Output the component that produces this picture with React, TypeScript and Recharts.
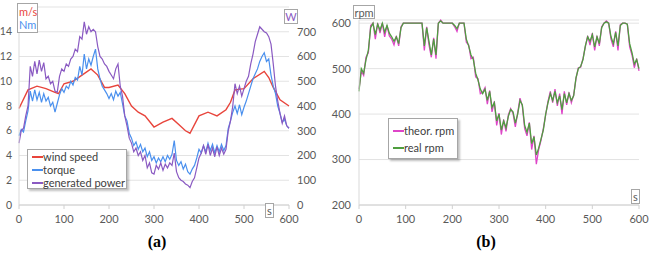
import { LineChart, Line, XAxis, YAxis, CartesianGrid } from "recharts";

// time grid for the sampled series (s)
const seconds = [
  0, 5, 10, 15, 20, 25, 30, 35, 40, 45, 50, 55, 60, 65, 70, 75, 80, 85, 90, 95,
  100, 105, 110, 115, 120, 125, 130, 135, 140, 145, 150, 155, 160, 165, 170, 175, 180, 185, 190, 195,
  200, 205, 210, 215, 220, 225, 230, 235, 240, 245, 250, 255, 260, 265, 270, 275, 280, 285, 290, 295,
  300, 305, 310, 315, 320, 325, 330, 335, 340, 345, 350, 355, 360, 365, 370, 375, 380, 385, 390, 395,
  400, 405, 410, 415, 420, 425, 430, 435, 440, 445, 450, 455, 460, 465, 470, 475, 480, 485, 490, 495,
  500, 505, 510, 515, 520, 525, 530, 535, 540, 545, 550, 555, 560, 565, 570, 575, 580, 585, 590, 595,
  600,
];

// Nm
const torque = [
  5.6, 6.1, 5.9, 6.8, 7.6, 9.2, 8.4, 9.3, 8.5, 9.1, 8.3, 9.0, 8.4, 8.7, 8.0, 8.3, 7.5, 8.2, 8.9, 9.4,
  9.1, 9.6, 9.4, 10.0, 9.7, 10.3, 10.1, 11.2, 10.5, 12.2, 11.0, 11.8, 11.3, 12.0, 12.6, 11.0, 10.2, 9.6, 9.3, 9.0,
  8.6, 9.0, 8.5, 9.2, 8.8, 9.1, 8.2, 7.2, 6.8, 5.8, 5.4, 4.8, 5.1, 4.5, 4.9, 4.3, 4.6, 3.9, 4.3, 3.6,
  3.9, 3.4, 3.8, 3.5, 3.9, 3.5, 4.0, 3.7, 4.1, 5.2, 3.6, 3.2, 3.5, 2.9, 3.3, 2.7, 2.5, 2.9, 3.2, 3.8,
  4.5, 4.2, 4.8, 4.3, 5.0, 4.4, 4.9, 4.2, 4.8, 4.3, 4.9, 4.4, 4.8, 6.2, 6.8, 7.5, 8.0, 7.4, 8.1, 7.3,
  7.9, 8.4, 9.0, 9.6, 10.2, 10.6, 11.0, 11.6, 12.0, 12.3, 11.6, 11.8, 10.5, 9.6, 9.0, 8.0, 7.4, 6.7, 6.9, 6.4,
  6.2,
];

// W
const power = [
  250, 300, 310, 360, 400, 560, 520, 580, 530, 585, 540, 575, 510, 520, 490, 500, 460, 455, 520, 550,
  540, 570, 560, 590, 600, 630, 620, 680, 670, 740, 690, 720, 700, 710, 700, 640, 600, 590, 570, 560,
  540, 525, 510, 550, 570, 480, 440, 360, 320, 270, 250, 215, 230, 200, 215, 180, 200, 150, 170, 130,
  125, 160, 145, 170, 140, 165, 150, 170, 160, 210, 135, 110, 100, 95, 85, 80, 70, 95, 110, 150,
  190, 210, 240, 205, 245, 200, 230, 195, 235, 200, 230, 205, 225, 300, 340, 400, 490, 450, 480, 440,
  470, 500, 520, 570, 610, 660, 690, 720, 710, 700, 695, 680, 650, 570, 480, 420, 370, 330, 360, 320,
  310,
];

// wind speed is smooth, read at its corners (m/s)
const windTime = [0, 20, 40, 60, 80, 88, 100, 120, 140, 160, 175, 190, 200, 220, 235, 250, 265, 280, 300, 320, 340, 355, 370, 380, 400, 420, 440, 460, 470, 480, 500, 520, 545, 555, 565, 580, 600];
const windSpeed = [7.8, 9.3, 9.6, 9.4, 9.1, 9.0, 9.8, 10.0, 10.5, 11.0, 10.5, 9.5, 9.5, 9.7, 9.0, 8.0, 7.5, 7.2, 6.3, 6.7, 7.0, 6.5, 6.0, 5.8, 7.2, 7.5, 7.2, 7.7, 8.3, 9.3, 9.4, 10.2, 10.8, 10.3, 9.5, 8.5, 8.0];

// rpm
const realRpm = [
  450, 500, 490, 520, 540, 590, 600, 575, 598, 585, 600, 580, 595, 578, 570, 560, 570, 555, 590, 600,
  600, 600, 600, 600, 600, 600, 600, 600, 550, 590, 560, 530, 565, 530, 600, 605, 600, 600, 600, 600,
  600, 595, 588, 600, 600, 600, 565, 550, 530, 520, 490, 475, 455, 445, 455, 430, 450, 415, 425, 385,
  400, 365, 385, 370, 395, 410, 405, 380, 400, 430, 420, 375, 360, 380, 335, 350, 310, 325, 345, 365,
  400, 425, 445, 430, 450, 425, 440, 410, 445, 425, 445, 430, 440, 480, 500, 505, 520, 550, 570, 560,
  575, 548, 570, 555, 590, 600, 603, 600, 570, 555, 580, 550, 595, 600, 600, 598, 555, 535, 510, 520,
  500,
];

const theorRpm = [
  455, 495, 485, 525, 535, 595, 600, 565, 600, 578, 600, 570, 595, 572, 565, 552, 572, 550, 592, 600,
  600, 600, 600, 600, 600, 600, 600, 600, 540, 592, 552, 525, 568, 522, 600, 607, 600, 600, 600, 600,
  600, 592, 582, 600, 600, 600, 558, 552, 522, 525, 482, 478, 445, 448, 458, 422, 452, 405, 428, 375,
  402, 355, 388, 362, 398, 412, 402, 372, 402, 435, 418, 368, 352, 382, 322, 352, 290, 322, 342, 368,
  398, 428, 450, 425, 455, 418, 445, 400, 450, 420, 448, 425, 442, 478, 502, 503, 522, 548, 572, 552,
  578, 540, 572, 550, 592, 600, 605, 600, 565, 548, 582, 540, 597, 600, 600, 598, 548, 530, 502, 522,
  495,
];

const xTicks = [0, 100, 200, 300, 400, 500, 600];
const leftTicks = [0, 2, 4, 6, 8, 10, 12, 14];
const powerTicks = [0, 100, 200, 300, 400, 500, 600, 700];
const rpmTicks = [200, 300, 400, 500, 600];

const FONT = "Lato, 'Open Sans', sans-serif";
const tickStyle = { fontSize: 11, fill: "#595959", fontFamily: FONT };
const boxStyle = {
  position: "absolute" as const,
  border: "1px solid #a6a6a6",
  background: "#fff",
  fontFamily: FONT,
  fontSize: 11,
  lineHeight: "13px",
};

const chartA = seconds.map((t, i) => ({ t, torque: torque[i], power: power[i] }));
const windData = windTime.map((t, i) => ({ t, wind: windSpeed[i] }));
const chartB = seconds.map((t, i) => ({ t, theor: theorRpm[i], real: realRpm[i] }));

const LegendRow = ({ color, label }: { color: string; label: string }) => (
  <div style={{ display: "flex", alignItems: "center", whiteSpace: "nowrap" }}>
    <span style={{ width: 11, height: 2, background: color, display: "inline-block" }} />
    <span style={{ color: "#404040" }}>{label}</span>
  </div>
);

export default function App() {
  return (
    <div style={{ position: "absolute", left: 0, top: 0, width: 651, height: 253, background: "#fff", overflow: "hidden" }}>
      <div style={{ position: "absolute", left: 0, top: 0 }}>
        <LineChart width={330} height={253} data={chartA} margin={{ top: 7, right: 0, bottom: 28, left: 0 }}>
          <CartesianGrid vertical={false} stroke="#e3e3e3" yAxisId="l" />
          <XAxis dataKey="t" type="number" domain={[0, 600]} ticks={xTicks} tick={tickStyle} stroke="#d0d0d0" tickSize={4} tickMargin={6} height={20} />
          <YAxis yAxisId="l" domain={[0, 16]} ticks={leftTicks} tick={{ ...tickStyle, fontSize: 10.5 }} tickMargin={1} width={19} axisLine={{ stroke: "#d9d9d9" }} tickLine={false} />
          <YAxis yAxisId="r" orientation="right" domain={[0, 800]} ticks={powerTicks} tick={tickStyle} width={41} axisLine={false} tickLine={false} />
          <Line yAxisId="l" data={windData} dataKey="wind" stroke="#e8453c" strokeWidth={1.4} dot={false} isAnimationActive={false} />
          <Line yAxisId="l" dataKey="torque" stroke="#4a90ee" strokeWidth={1.2} dot={false} isAnimationActive={false} />
          <Line yAxisId="r" dataKey="power" stroke="#8a5ac2" strokeWidth={1.2} dot={false} isAnimationActive={false} />
        </LineChart>
      </div>
      <div style={{ position: "absolute", left: 330, top: 0 }}>
        <LineChart width={321} height={253} data={chartB} margin={{ top: 20, right: 12, bottom: 28, left: 0 }}>
          <CartesianGrid vertical={false} stroke="#e3e3e3" />
          <XAxis dataKey="t" type="number" domain={[0, 600]} ticks={xTicks} tick={tickStyle} stroke="#d0d0d0" tickSize={4} tickMargin={6} height={20} />
          <YAxis domain={[200, 600]} ticks={rpmTicks} tick={tickStyle} width={29} axisLine={{ stroke: "#d9d9d9" }} tickLine={false} />
          <Line dataKey="theor" stroke="#de45c8" strokeWidth={1.3} dot={false} isAnimationActive={false} />
          <Line dataKey="real" stroke="#4f9e3f" strokeWidth={1.3} dot={false} isAnimationActive={false} />
        </LineChart>
      </div>

      {/* unit labels */}
      <div style={{ ...boxStyle, left: 17, top: 3, width: 17, padding: "1px 1px" }}>
        <div style={{ color: "#e8453c" }}>m/s</div>
        <div style={{ color: "#4a90ee" }}>Nm</div>
      </div>
      <div style={{ ...boxStyle, left: 284, top: 9, width: 12, height: 13, textAlign: "center", color: "#8a5ac2" }}>W</div>
      <div style={{ ...boxStyle, left: 265, top: 203, width: 7, height: 13, textAlign: "center", color: "#595959" }}>s</div>
      <div style={{ ...boxStyle, left: 353, top: 5, width: 20, height: 12, textAlign: "center", color: "#595959" }}>rpm</div>
      <div style={{ ...boxStyle, left: 631, top: 189, width: 7, height: 13, textAlign: "center", color: "#595959" }}>s</div>

      {/* legends */}
      <div style={{ ...boxStyle, left: 27, top: 149, width: 94, height: 38, padding: "0 0 0 4px", boxShadow: "2px 2px 2px rgba(0,0,0,0.25)" }}>
        <LegendRow color="#e8453c" label="wind speed" />
        <LegendRow color="#4a90ee" label="torque" />
        <LegendRow color="#8a5ac2" label="generated power" />
      </div>
      <div style={{ ...boxStyle, left: 388, top: 118, width: 64, height: 36, padding: "3px 0 0 4px", boxShadow: "2px 2px 2px rgba(0,0,0,0.25)", lineHeight: "17px" }}>
        <LegendRow color="#de45c8" label="theor. rpm" />
        <LegendRow color="#4f9e3f" label="real rpm" />
      </div>

      {/* captions */}
      <div style={{ position: "absolute", left: 0, width: 314, top: 233, textAlign: "center", fontFamily: "'Liberation Serif', serif", fontWeight: "bold", fontSize: 16 }}>(a)</div>
      <div style={{ position: "absolute", left: 330, width: 312, top: 233, textAlign: "center", fontFamily: "'Liberation Serif', serif", fontWeight: "bold", fontSize: 16 }}>(b)</div>
    </div>
  );
}
